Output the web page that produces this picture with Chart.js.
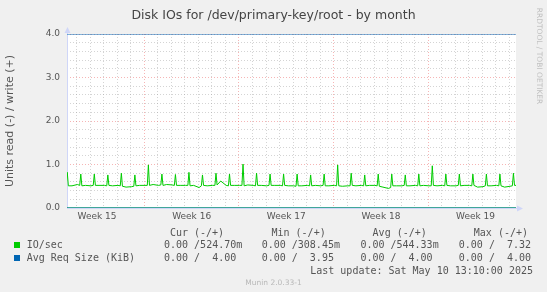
<!DOCTYPE html>
<html>
<head>
<meta charset="utf-8">
<script src="https://cdn.jsdelivr.net/npm/chart.js@4/dist/chart.umd.min.js"></script>
<style>
body{margin:0;background:#f0f0f0;}
#wrap{position:relative;width:547px;height:292px;overflow:hidden;font-family:"DejaVu Sans";color:#555;}
#c{position:absolute;left:0;top:0;}
.t{position:absolute;white-space:pre;font-weight:normal;}
.m{font-family:"DejaVu Sans Mono";font-size:10px;line-height:12px;}
.sq{position:absolute;width:6px;height:6px;}
</style>
</head>
<body>
<div id="wrap">
<canvas id="c" width="547" height="292"></canvas>
<div class="t" style="left:0;width:547px;top:7px;text-align:center;font-size:12.5px;line-height:15px;color:#444">Disk IOs for /dev/primary-key/root - by month</div>
<div class="t" style="left:489px;width:100px;top:51px;text-align:center;font-size:7.5px;line-height:10px;color:#c0c0c0;transform:rotate(90deg)">RRDTOOL / TOBI OETIKER</div>

<div class="t m" style="left:169.9px;top:226.6px">Cur (-/+)</div>
<div class="t m" style="left:271.5px;top:226.6px">Min (-/+)</div>
<div class="t m" style="left:372.6px;top:226.6px">Avg (-/+)</div>
<div class="t m" style="left:473.8px;top:226.6px">Max (-/+)</div>

<div class="sq" style="left:14px;top:242.3px;background:#00cc00"></div>
<div class="t m" style="left:26.7px;top:239.3px">IO/sec</div>
<div class="t m" style="left:164px;top:239.3px">0.00 /524.70m</div>
<div class="t m" style="left:261.7px;top:239.3px">0.00 /308.45m</div>
<div class="t m" style="left:360.4px;top:239.3px">0.00 /544.33m</div>
<div class="t m" style="left:458.8px;top:239.3px">0.00 /  7.32</div>

<div class="sq" style="left:14px;top:255px;background:#0066b3"></div>
<div class="t m" style="left:26.7px;top:252px">Avg Req Size (KiB)</div>
<div class="t m" style="left:164px;top:252px">0.00 /  4.00</div>
<div class="t m" style="left:261.7px;top:252px">0.00 /  3.95</div>
<div class="t m" style="left:360.4px;top:252px">0.00 /  4.00</div>
<div class="t m" style="left:458.8px;top:252px">0.00 /  4.00</div>

<div class="t m" style="right:14px;top:264.7px">Last update: Sat May 10 13:10:00 2025</div>
<div class="t" style="left:0;width:547px;top:278px;text-align:center;font-size:7.5px;line-height:10px;color:#b8b8b8">Munin 2.0.33-1</div>
</div>

<script>
// x = days since Sunday 13 Apr 2025 00:00
const xMin = -5.72;
const xMax = 27.49;

const weekMids = [-3.5, 3.5, 10.5, 17.5, 24.5];
const weekLabels = ["Week 15", "Week 16", "Week 17", "Week 18", "Week 19"];
const dayLines = [-5,-4,-3,-2,-1,0,1,2,3,4,5,6,7,8,9,10,11,12,13,14,15,16,17,18,19,20,21,22,23,24,25,26,27];

// IO/sec write, one row per day (Mon 7 Apr .. Sat 10 May), samples at these day fractions
const firstDay = -6;
const sampleOffsets = [0.05, 0.22, 0.30, 0.38, 0.65];
const ioWrite = [
    [0.52,0.52,0.82,0.51,0.51],
    [0.54,0.52,0.78,0.51,0.52],
    [0.51,0.52,0.78,0.52,0.52],
    [0.52,0.51,0.76,0.52,0.51],
    [0.52,0.51,0.80,0.50,0.48],
    [0.49,0.50,0.76,0.51,0.52],
    [0.52,0.52,0.99,0.52,0.54],
    [0.52,0.53,0.78,0.52,0.54],
    [0.53,0.52,0.77,0.52,0.52],
    [0.52,0.52,0.82,0.51,0.52],
    [0.47,0.51,0.76,0.52,0.51],
    [0.52,0.52,0.80,0.53,0.62],
    [0.52,0.51,0.78,0.52,0.52],
    [0.52,0.52,1.01,0.51,0.53],
    [0.52,0.51,0.80,0.52,0.52],
    [0.51,0.52,0.78,0.52,0.52],
    [0.52,0.51,0.78,0.52,0.51],
    [0.51,0.50,0.78,0.51,0.51],
    [0.52,0.51,0.76,0.51,0.52],
    [0.51,0.52,0.78,0.51,0.51],
    [0.52,0.51,0.99,0.51,0.50],
    [0.51,0.51,0.80,0.52,0.51],
    [0.52,0.51,0.76,0.51,0.52],
    [0.52,0.51,0.78,0.50,0.48],
    [0.45,0.47,0.78,0.51,0.51],
    [0.51,0.52,0.76,0.51,0.51],
    [0.52,0.51,0.78,0.51,0.52],
    [0.51,0.51,0.97,0.52,0.51],
    [0.52,0.51,0.78,0.52,0.51],
    [0.51,0.52,0.78,0.51,0.52],
    [0.52,0.51,0.78,0.52,0.48],
    [0.49,0.51,0.78,0.51,0.51],
    [0.52,0.51,0.78,0.51,0.48],
    [0.50,0.51,0.80,0.52,0.52]
];

// flat series (start / end of the period)
const flatTimes = [-5.72, 27.55];
const ioRead = [0, 0];
const sizeRead = [0, 0];
const sizeWrite = [4.00, 4.00];

const ioWritePoints = [];
ioWrite.forEach((row, i) => {
    row.forEach((v, j) => {
        ioWritePoints.push({x: firstDay + i + sampleOffsets[j], y: v});
    });
});
const flat = vals => vals.map((v, i) => ({x: flatTimes[i], y: v}));

const RED = "rgba(235,90,90,0.45)";
const GRAY = "rgba(160,160,160,0.45)";
const AXIS = "#cfd6f8";

function isWhole(v){ return Math.abs(v - Math.round(v)) < 1e-6; }

const muninBits = {
    id: "muninBits",
    beforeDraw(chart){
        const {ctx, chartArea: a} = chart;
        ctx.save();
        ctx.fillStyle = "#ffffff";
        ctx.fillRect(a.left, a.top, a.right - a.left, a.bottom - a.top);
        ctx.restore();
    },
    beforeDatasetsDraw(chart){
        const {ctx, chartArea: a} = chart;
        ctx.save();
        ctx.strokeStyle = AXIS;
        ctx.fillStyle = AXIS;
        ctx.lineWidth = 1;
        ctx.beginPath();
        ctx.moveTo(a.left + 0.5, a.bottom);
        ctx.lineTo(a.left + 0.5, a.top - 3);
        ctx.moveTo(a.left, a.bottom + 0.5);
        ctx.lineTo(a.right + 3, a.bottom + 0.5);
        ctx.stroke();
        // arrows
        ctx.beginPath();
        ctx.moveTo(a.left + 0.5, a.top - 7);
        ctx.lineTo(a.left - 2.5, a.top - 1);
        ctx.lineTo(a.left + 3.5, a.top - 1);
        ctx.fill();
        ctx.beginPath();
        ctx.moveTo(a.right + 7, a.bottom + 0.5);
        ctx.lineTo(a.right + 1, a.bottom - 2.5);
        ctx.lineTo(a.right + 1, a.bottom + 3.5);
        ctx.fill();
        ctx.restore();
    }
};

Chart.defaults.font.family = "DejaVu Sans";
Chart.defaults.color = "#555";

new Chart(document.getElementById("c"), {
    type: "line",
    data: {
        datasets: [
            {label: "Avg Req Size write", data: flat(sizeWrite), borderColor: "#0066b3"},
            {label: "Avg Req Size read", data: flat(sizeRead), borderColor: "#0066b3"},
            {label: "IO/sec write", data: ioWritePoints, borderColor: "#00cc00"},
            {label: "IO/sec read", data: flat(ioRead), borderColor: "#00cc00"}
        ]
    },
    options: {
        responsive: false,
        animation: false,
        devicePixelRatio: 1,
        layout: {padding: {left: 0, top: 34, right: 31, bottom: 0}},
        elements: {
            line: {borderWidth: 1, tension: 0, fill: false},
            point: {radius: 0}
        },
        plugins: {
            legend: {display: false},
            title: {display: false},
            tooltip: {enabled: false}
        },
        scales: {
            x: {
                type: "linear",
                min: xMin,
                max: xMax,
                afterBuildTicks: s => {
                    s.ticks = dayLines.concat(weekMids).sort((a, b) => a - b).map(v => ({value: v}));
                },
                afterFit: s => { s.height = 84; },
                ticks: {
                    autoSkip: false,
                    maxRotation: 0,
                    padding: 3,
                    font: {size: 9},
                    callback: v => {
                        const i = weekMids.indexOf(v);
                        return i < 0 ? "" : weekLabels[i];
                    }
                },
                grid: {
                    drawTicks: false,
                    lineWidth: 1,
                    color: c => {
                        const v = c.tick ? c.tick.value : 0;
                        if (!isWhole(v)) return "rgba(0,0,0,0)";
                        return (((v % 7) + 7) % 7 === 0) ? RED : GRAY;
                    }
                },
                border: {display: false, dash: [1, 2]}
            },
            y: {
                min: 0,
                max: 4,
                afterFit: s => { s.width = 67; },
                title: {
                    display: true,
                    text: "Units read (-) / write (+)",
                    color: "#555",
                    font: {size: 11},
                    padding: {top: 4, bottom: 0}
                },
                ticks: {
                    stepSize: 0.2,
                    autoSkip: false,
                    padding: 7,
                    font: {size: 9},
                    callback: v => isWhole(v) ? Number(v).toFixed(1) : ""
                },
                grid: {
                    drawTicks: false,
                    lineWidth: 1,
                    color: c => {
                        const v = c.tick ? c.tick.value : 0;
                        return isWhole(v) ? RED : GRAY;
                    }
                },
                border: {display: false, dash: [1, 2]}
            }
        }
    },
    plugins: [muninBits]
});
</script>
</body>
</html>
